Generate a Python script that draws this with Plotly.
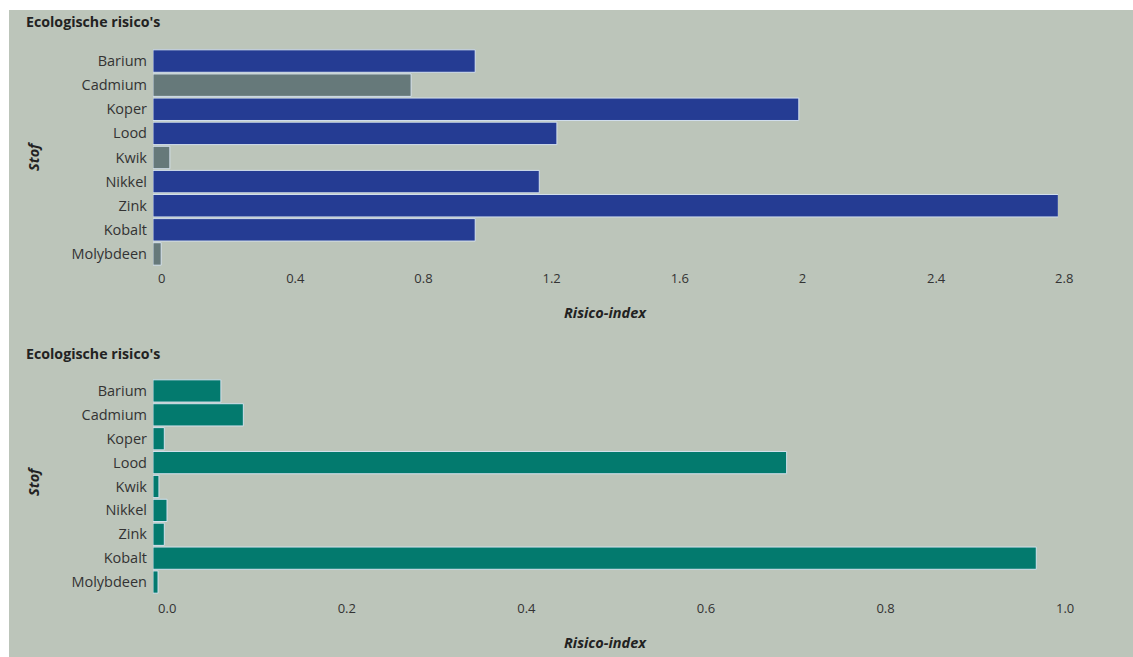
import plotly.graph_objects as go
from plotly.subplots import make_subplots

# ---------------- data ----------------
stoffen = ["Barium", "Cadmium", "Koper", "Lood", "Kwik", "Nikkel", "Zink", "Kobalt", "Molybdeen"]
risico_boven = [0.99, 0.79, 2.00, 1.245, 0.037, 1.19, 2.81, 0.99, 0.01]
groep_boven = ["a", "b", "a", "a", "b", "a", "a", "a", "b"]   # a = blauw, b = grijs
risico_onder = [0.070, 0.095, 0.007, 0.70, 0.001, 0.010, 0.007, 0.978, 0.0]

titel = "Ecologische risico's"
x_titel = "Risico-index"
y_titel = "Stof"

# ---------------- style ----------------
BG = "#bcc5ba"
BLUE = "#253c93"
GREY = "#66797a"
TEAL = "#037a6e"
EDGE = "rgba(215,228,240,0.95)"
FONT = "Open Sans"
TXT = "#333333"

W, H = 1133, 657
ML, MR, MT, MB = 153, W - 1058, 49, H - 594
TOP_RANGE = [-0.0156, 2.809]
BOT_RANGE = [-0.0056, 1.0022]

fig = make_subplots(rows=2, cols=1, shared_xaxes=False)

kleuren = [BLUE if g == "a" else GREY for g in groep_boven]
fig.add_trace(go.Bar(
    y=stoffen, x=[v - TOP_RANGE[0] for v in risico_boven], base=TOP_RANGE[0],
    orientation="h", marker=dict(color=kleuren, line=dict(color=EDGE, width=1)),
    showlegend=False), row=1, col=1)
fig.add_trace(go.Bar(
    y=stoffen, x=[v - BOT_RANGE[0] for v in risico_onder], base=BOT_RANGE[0],
    orientation="h", marker=dict(color=TEAL, line=dict(color=EDGE, width=1)),
    showlegend=False), row=2, col=1)

plot_w = W - ML - MR
plot_h = H - MT - MB


def px_x(px):
    return (px - ML) / plot_w


def px_y(py):
    return (H - MB - py) / plot_h


top_dom = [px_y(266), 1.0]
bot_dom = [0.0, px_y(379)]

common_x = dict(showgrid=False, zeroline=False, showline=False, ticks="",
                ticklabelposition="outside right",
                tickfont=dict(family=FONT, size=13, color=TXT))
fig.update_xaxes(range=TOP_RANGE, tickvals=[0, 0.4, 0.8, 1.2, 1.6, 2, 2.4, 2.8],
                 ticklabelstandoff=3, **common_x, row=1, col=1)
fig.update_xaxes(range=BOT_RANGE, tickvals=[0, 0.2, 0.4, 0.6, 0.8, 1.0], tickformat=".1f",
                 ticklabelstandoff=5, **common_x, row=2, col=1)
common_y = dict(showgrid=False, zeroline=False, showline=False, ticks="", autorange="reversed",
                ticklabelstandoff=5,
                tickfont=dict(family=FONT, size=14.5, color=TXT))
fig.update_yaxes(domain=top_dom, **common_y, row=1, col=1)
fig.update_yaxes(domain=bot_dom, **common_y, row=2, col=1)

annots = []
for ty, ay, yy in [(21, 312, 157), (353, 642, 482)]:
    annots.append(dict(text="<b>" + titel + "</b>", x=px_x(24), y=px_y(ty), xref="paper", yref="paper",
                       xanchor="left", yanchor="middle", showarrow=False,
                       font=dict(family=FONT, size=14.2, color="#222222")))
    annots.append(dict(text="<b><i>" + x_titel + "</i></b>", x=px_x(605), y=px_y(ay), xref="paper",
                       yref="paper", xanchor="center", yanchor="middle", showarrow=False,
                       font=dict(family=FONT, size=14.5, color="#222222")))
    annots.append(dict(text="<b><i>" + y_titel + "</i></b>", x=px_x(33), y=px_y(yy), xref="paper",
                       yref="paper", xanchor="center", yanchor="middle", showarrow=False, textangle=-90,
                       font=dict(family=FONT, size=14.5, color="#222222")))

shapes = [
    dict(type="rect", xref="paper", yref="paper", x0=px_x(0), x1=px_x(W), y0=px_y(10), y1=px_y(0),
         fillcolor="white", line=dict(width=0), layer="below"),
    dict(type="rect", xref="paper", yref="paper", x0=px_x(0), x1=px_x(9), y0=px_y(H), y1=px_y(0),
         fillcolor="white", line=dict(width=0), layer="below"),
]

fig.update_layout(
    width=W, height=H, autosize=False,
    margin=dict(l=ML, r=MR, t=MT, b=MB, autoexpand=False),
    paper_bgcolor=BG, plot_bgcolor=BG,
    bargap=0.07,
    annotations=annots, shapes=shapes,
    font=dict(family=FONT, color=TXT),
)

fig.write_html("out.html", config={"displayModeBar": False},
               post_script="document.body.style.margin='0';document.body.style.overflow='hidden';")
